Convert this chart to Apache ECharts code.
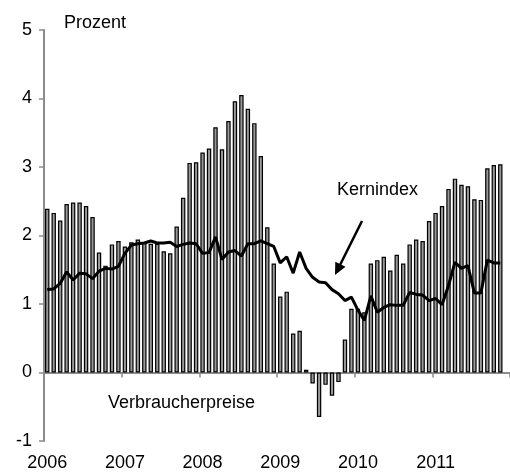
<!DOCTYPE html>
<html>
<head>
<meta charset="utf-8">
<script src="https://cdn.jsdelivr.net/npm/echarts@6/dist/echarts.min.js"></script>
<style>
  html, body { margin: 0; padding: 0; background: #fff; }
  #chart { width: 510px; height: 472px; }
</style>
</head>
<body>
<div id="chart"></div>
<script>
// Jahre der x-Achse, je 12 Monate
const years = ['2006', '2007', '2008', '2009', '2010', '2011'];

// Verbraucherpreise, Veränderung gg. Vorjahr in %, Jan 2006 - Nov 2011
const verbraucherpreise = [
  2.39, 2.33, 2.22, 2.46, 2.48, 2.48, 2.43, 2.27, 1.75, 1.56, 1.87, 1.92,
  1.84, 1.90, 1.94, 1.90, 1.88, 1.88, 1.77, 1.74, 2.13, 2.55, 3.06, 3.07,
  3.21, 3.27, 3.58, 3.26, 3.67, 3.96, 4.05, 3.85, 3.64, 3.16, 2.12, 1.59,
  1.11, 1.18, 0.57, 0.61, 0.04, -0.16, -0.65, -0.18, -0.34, -0.14, 0.48, 0.93,
  0.93, 0.88, 1.59, 1.64, 1.69, 1.49, 1.72, 1.59, 1.87, 1.94, 1.92, 2.21,
  2.33, 2.43, 2.68, 2.83, 2.74, 2.72, 2.53, 2.52, 2.98, 3.03, 3.04, null
];

// Kernindex
const kernindex = [
  1.21, 1.22, 1.30, 1.47, 1.35, 1.45, 1.44, 1.37, 1.48, 1.52, 1.51, 1.55,
  1.74, 1.86, 1.88, 1.89, 1.92, 1.89, 1.89, 1.90, 1.84, 1.87, 1.89, 1.88,
  1.74, 1.75, 1.98, 1.65, 1.76, 1.78, 1.70, 1.88, 1.88, 1.92, 1.88, 1.84,
  1.60, 1.69, 1.45, 1.76, 1.52, 1.39, 1.32, 1.31, 1.21, 1.15, 1.05, 1.10,
  0.91, 0.76, 1.12, 0.88, 0.95, 0.99, 0.98, 0.98, 1.17, 1.14, 1.13, 1.05,
  1.08, 0.99, 1.27, 1.61, 1.52, 1.56, 1.16, 1.16, 1.64, 1.60, 1.60, null
];

const months = [];
years.forEach(y => {
  for (let m = 1; m <= 12; m++) months.push(y + '-' + (m < 10 ? '0' + m : m));
});

const font = 'Liberation Sans, Arial, sans-serif';
const axisGrey = '#8c8c8c';

const chart = echarts.init(document.getElementById('chart'));

const option = {
  animation: false,
  grid: { left: 44, right: 0, top: 30, bottom: 31, containLabel: false, outerBoundsMode: 'none' },
  xAxis: [
    {
      // Nulllinie mit Jahresstrichen
      type: 'category',
      data: months,
      boundaryGap: true,
      axisLine: { onZero: true, lineStyle: { color: axisGrey, width: 2 } },
      axisTick: { show: true, interval: 11, length: 5, lineStyle: { color: axisGrey, width: 1.5 } },
      axisLabel: { show: false },
      splitLine: { show: false }
    },
    {
      // Jahresbeschriftung unten
      type: 'category',
      data: months,
      position: 'bottom',
      boundaryGap: true,
      axisLine: { show: false, onZero: false },
      axisTick: { show: false },
      axisLabel: {
        interval: 11,
        margin: 13,
        color: '#000',
        fontFamily: font,
        fontSize: 18,
        formatter: v => v.slice(0, 4)
      },
      splitLine: { show: false }
    }
  ],
  yAxis: {
    type: 'value',
    min: -1,
    max: 5,
    interval: 1,
    axisLine: { show: true, lineStyle: { color: axisGrey, width: 2 } },
    axisTick: { show: true, length: 5, lineStyle: { color: axisGrey, width: 1.5 } },
    axisLabel: { margin: 12, color: '#000', fontFamily: font, fontSize: 18 },
    splitLine: { show: false }
  },
  series: [
    {
      name: 'Verbraucherpreise',
      type: 'bar',
      data: verbraucherpreise,
      barCategoryGap: '32%',
      itemStyle: { color: '#999', borderColor: '#000', borderWidth: 1.2 },
      z: 2
    },
    {
      name: 'Kernindex',
      type: 'line',
      data: kernindex,
      showSymbol: false,
      lineStyle: { color: '#000', width: 3 },
      z: 3
    }
  ],
  graphic: [
    { type: 'text', x: 64, y: 14, style: { text: 'Prozent', font: '18px ' + font, fill: '#000' } },
    { type: 'text', x: 337, y: 181, style: { text: 'Kernindex', font: '18px ' + font, fill: '#000' } },
    { type: 'text', x: 108, y: 394, style: { text: 'Verbraucherpreise', font: '18px ' + font, fill: '#000' } },
    {
      type: 'line',
      shape: { x1: 362, y1: 221, x2: 340, y2: 265 },
      style: { stroke: '#000', lineWidth: 2.5 }
    },
    {
      type: 'polygon',
      shape: { points: [[335, 275], [345.5, 266.8], [335.3, 261.8]] },
      style: { fill: '#000' }
    }
  ]
};

chart.setOption(option);
</script>
</body>
</html>
